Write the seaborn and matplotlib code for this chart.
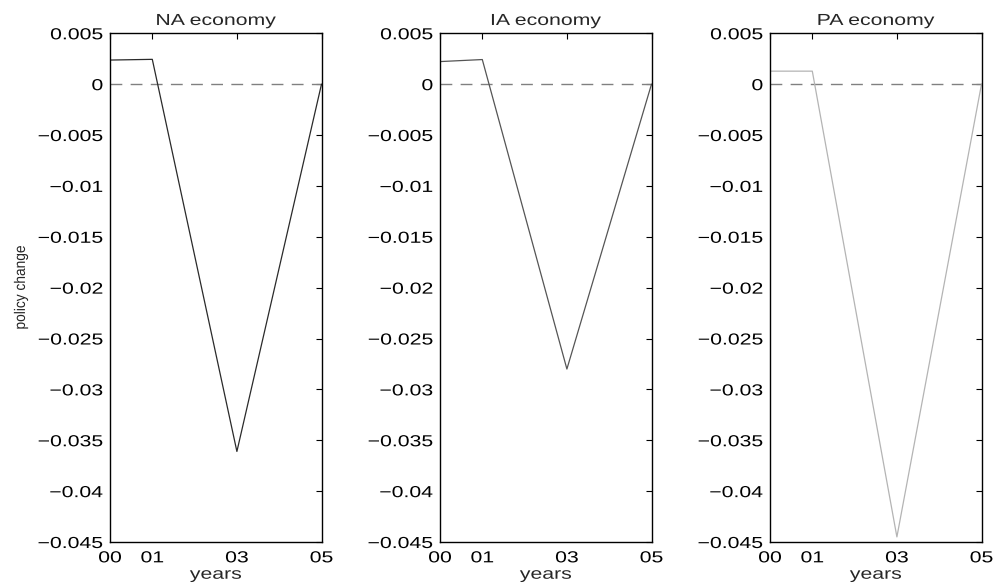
import matplotlib
matplotlib.use("Agg")
import matplotlib.pyplot as plt
import seaborn as sns
import pandas as pd
from matplotlib.patheffects import AbstractPathEffect
from matplotlib.transforms import Affine2D

sns.set_style("white")
plt.rcParams['font.family'] = ['Liberation Sans', 'DejaVu Sans']

years = [0, 1, 3, 5]
xtick_labels = ["00", "01", "03", "05"]
titles = ["NA economy", "IA economy", "PA economy"]
na_values = [0.00237, 0.00244, -0.0361, 0.0]
ia_values = [0.00222, 0.00242, -0.0280, 0.0]
pa_values = [0.00128, 0.00128, -0.0445, 0.0]
series = [na_values, ia_values, pa_values]
colors = ["#2a2a2a", "#555555", "#b4b4b4"]
ytick_values = [0.005, 0, -0.005, -0.01, -0.015, -0.02, -0.025, -0.03, -0.035, -0.04, -0.045]
ytick_labels = ["0.005", "0", "\u22120.005", "\u22120.01", "\u22120.015", "\u22120.02",
                "\u22120.025", "\u22120.03", "\u22120.035", "\u22120.04", "\u22120.045"]


class Stretch(AbstractPathEffect):
    """Draw text stretched horizontally along its baseline."""

    def __init__(self, sx, anchor="center"):
        super().__init__()
        self.sx = sx
        self.anchor = anchor

    def draw_path(self, renderer, gc, tpath, affine, rgbFace=None):
        ext = tpath.get_extents()
        a = {"left": ext.x0, "right": ext.x1, "center": 0.5 * (ext.x0 + ext.x1)}[self.anchor]
        t = Affine2D().translate(-a, 0).scale(self.sx, 1).translate(a, 0) + affine
        renderer.draw_path(gc, tpath, t, rgbFace)


SX = 1.33
fig = plt.figure(figsize=(9.97, 5.86), dpi=100)
lefts = [110 / 997, 440 / 997, 770 / 997]
w = 211.5 / 997
b = 44 / 586
h = (542 - 33.3) / 586

for i in range(3):
    ax = fig.add_axes([lefts[i], b, w, h])
    df = pd.DataFrame({"year": years, "value": series[i]})
    ax.axhline(0, color="#808080", lw=1.0, ls=(0, (8.5, 6)), zorder=1)
    sns.lineplot(data=df, x="year", y="value", ax=ax, color=colors[i], lw=0.9, zorder=2)
    ax.set_xlim(0, 5)
    ax.set_ylim(-0.045, 0.005)
    ax.set_xticks(years)
    xl = ax.set_xticklabels(xtick_labels)
    ax.set_yticks(ytick_values)
    yl = ax.set_yticklabels(ytick_labels)
    ax.tick_params(direction="in", length=4, width=0.8, top=True, right=True,
                   labelsize=11.5, colors="black")
    ax.tick_params(axis="x", pad=6)
    ax.tick_params(axis="y", pad=5)
    for t in xl:
        t.set_path_effects([Stretch(SX, "center")])
    for t in yl:
        t.set_path_effects([Stretch(SX, "right")])
    for s in ax.spines.values():
        s.set_visible(True)
        s.set_color("black")
        s.set_linewidth(1.0)
    ttl = ax.set_title(titles[i], fontsize=11.5, pad=6)
    ttl.set_path_effects([Stretch(SX, "center")])
    xlab = ax.set_xlabel("years", fontsize=11.5, labelpad=1)
    xlab.set_path_effects([Stretch(SX, "center")])
    if i == 0:
        ylab = ax.set_ylabel("policy change", fontsize=11)
        ylab.set_path_effects([Stretch(0.9, "center")])
        ax.yaxis.set_label_coords(-0.388, 0.5)
    else:
        ax.set_ylabel("")

fig.savefig("out.png", dpi=100)
